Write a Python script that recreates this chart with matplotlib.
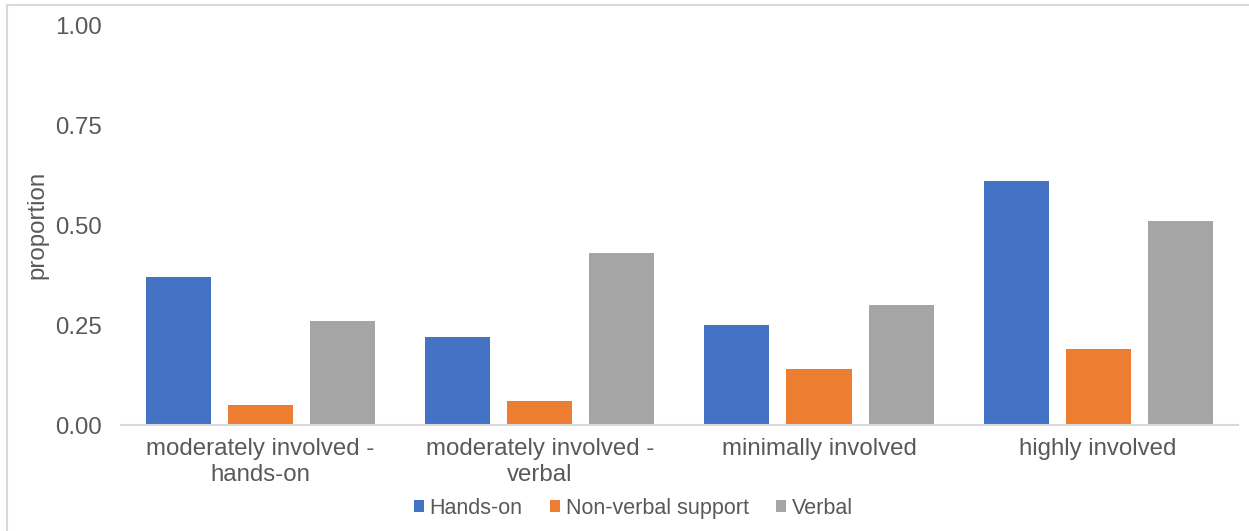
import numpy as np
import matplotlib.pyplot as plt
from matplotlib.patches import Rectangle

plt.rcParams['font.family'] = ['Liberation Sans', 'DejaVu Sans']

categories = ["moderately involved -\nhands-on", "moderately involved -\nverbal",
              "minimally involved", "highly involved"]
series_names = ["Hands-on", "Non-verbal support", "Verbal"]
hands_on = [0.37, 0.22, 0.25, 0.61]
non_verbal = [0.05, 0.06, 0.14, 0.19]
verbal = [0.26, 0.43, 0.30, 0.51]
colors = ["#4472C4", "#ED7D31", "#A5A5A5"]
yticks = [0.0, 0.25, 0.50, 0.75, 1.00]

text_color = "#595959"

fig = plt.figure(figsize=(12.49, 5.31), dpi=100)
ax = fig.add_axes([0.0969, 0.1996, 0.8941, 0.7533])

x = np.arange(len(categories))
width = 0.233
offset = 0.294
for i, (vals, name, col) in enumerate(zip([hands_on, non_verbal, verbal], series_names, colors)):
    ax.bar(x + (i - 1) * offset, vals, width, color=col, label=name, zorder=2)

ax.set_xlim(-0.5, len(categories) - 0.5)
ax.set_ylim(0, 1.0)
ax.set_yticks(yticks)
ax.set_yticklabels([f"{t:.2f}" for t in yticks])
ax.set_xticks(x)
ax.set_xticklabels(categories, linespacing=1.25)

for s in ["top", "right", "left"]:
    ax.spines[s].set_visible(False)
ax.spines["bottom"].set_color("#D9D9D9")
ax.spines["bottom"].set_linewidth(1.5)
ax.tick_params(axis="both", length=0, colors=text_color, labelsize=17.3)
ax.tick_params(axis="y", pad=14)
ax.tick_params(axis="x", pad=9)

fig.text(37 / 1249, 1 - 225 / 531, "proportion", rotation=90, color=text_color,
         fontsize=17.3, ha="center", va="center")

leg = fig.legend(loc="center", bbox_to_anchor=(0.507, 0.043), ncol=3, frameon=False,
                 fontsize=15.5, handlelength=0.5, handleheight=0.5, handletextpad=0.25,
                 columnspacing=1.25)
for t in leg.get_texts():
    t.set_color(text_color)

# thin border round the chart area
fig.patches.append(Rectangle((7 / 1249, -0.05), 1.2, 1 - 5 / 531 + 0.05,
                             transform=fig.transFigure, fill=False,
                             edgecolor="#D9D9D9", linewidth=1.5))

fig.savefig("out.png", dpi=100)
